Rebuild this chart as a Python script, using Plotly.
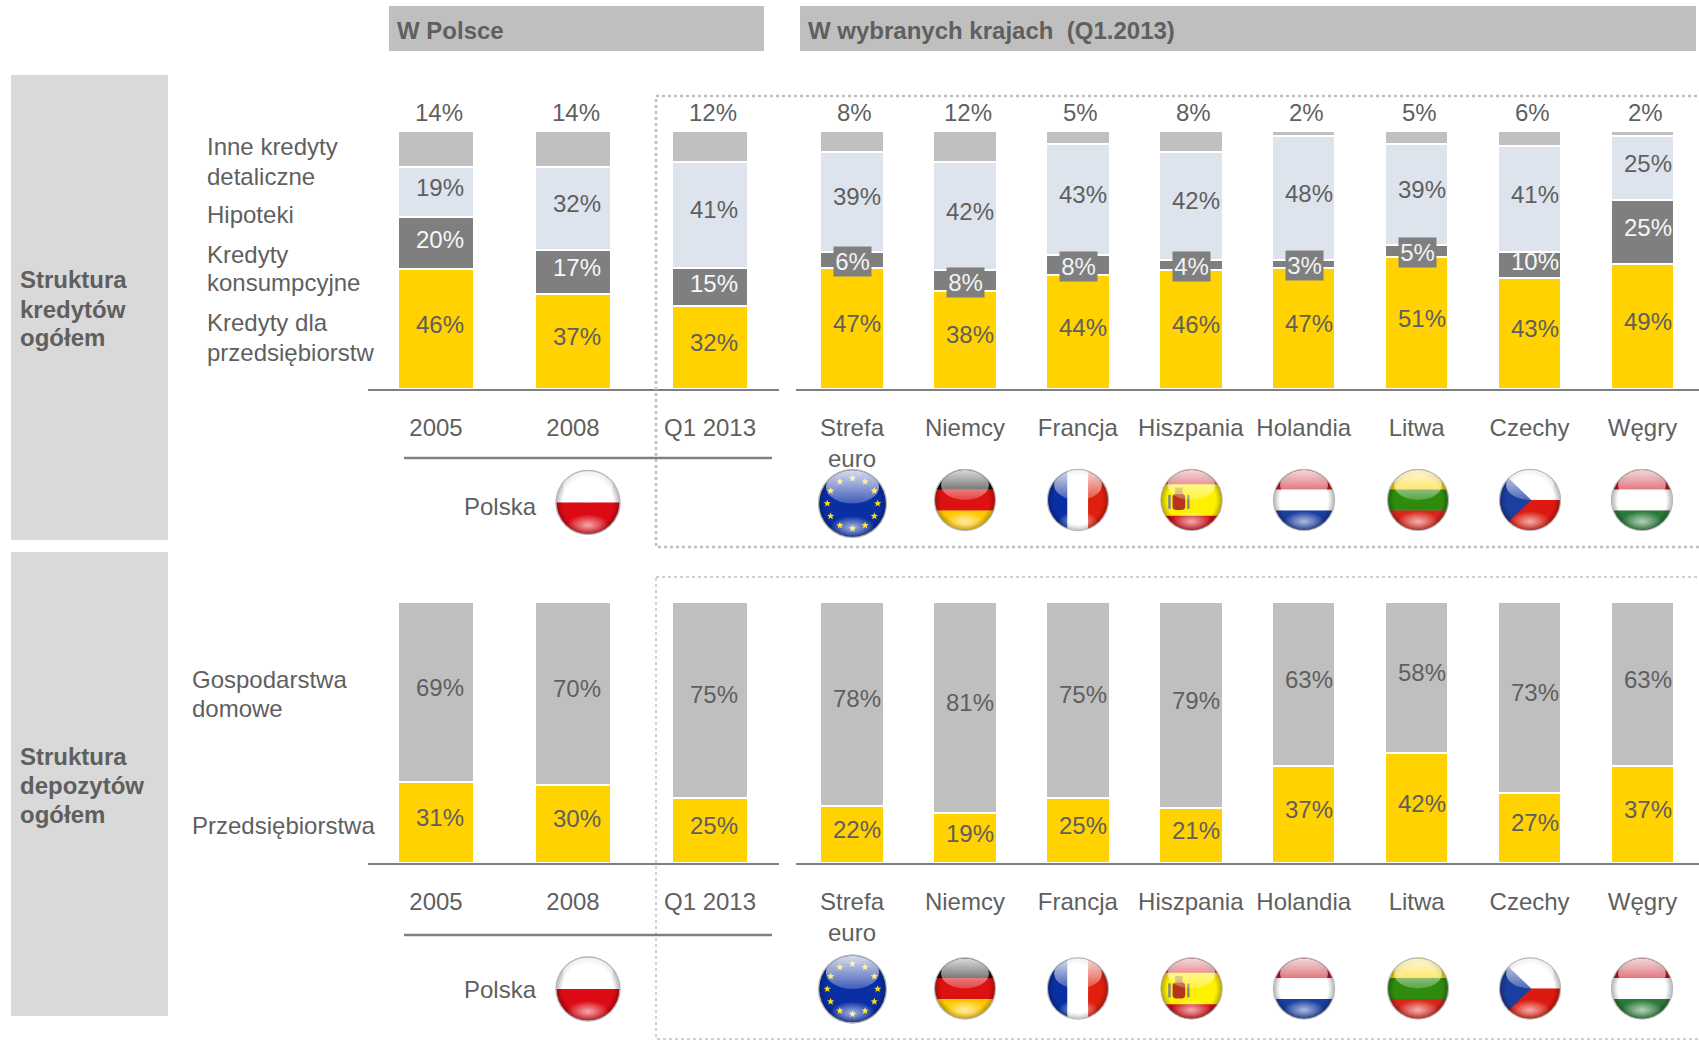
import base64
import math
import plotly.graph_objects as go

W, H = 1699, 1040
FONT = "Liberation Sans, Arial, sans-serif"
TXT = "#5F5F5F"
YELLOW, DARK, LIGHT, GREY = "#FFD200", "#7F7F7F", "#DEE4EE", "#BFBFBF"

# ---------- data ----------
poland_periods = ["2005", "2008", "Q1 2013"]
countries = ["Strefa<br>euro", "Niemcy", "Francja", "Hiszpania", "Holandia", "Litwa", "Czechy", "Węgry"]

pl_firms = [46, 37, 32]
pl_consumer = [20, 17, 15]
pl_mortgage = [19, 32, 41]
pl_other = [14, 14, 12]

eu_firms = [47, 38, 44, 46, 47, 51, 43, 49]
eu_consumer = [6, 8, 8, 4, 3, 5, 10, 25]
eu_mortgage = [39, 42, 43, 42, 48, 39, 41, 25]
eu_other = [8, 12, 5, 8, 2, 5, 6, 2]

pl_dep_firms = [31, 30, 25]
pl_dep_house = [69, 70, 75]
eu_dep_firms = [22, 19, 25, 21, 37, 42, 27, 37]
eu_dep_house = [78, 81, 75, 79, 63, 58, 73, 63]

credit_names = ["Kredyty dla przedsiębiorstw", "Kredyty konsumpcyjne", "Hipoteki", "Inne kredyty detaliczne"]
credit_colors = [YELLOW, DARK, LIGHT, GREY]
deposit_names = ["Przedsiębiorstwa", "Gospodarstwa domowe"]
deposit_colors = [YELLOW, GREY]


# ---------- helpers ----------
def px(x):
    return x / W


def py(y):
    return 1 - y / H


fig = go.Figure()
annotations, shapes, images = [], [], []


def text(x, y, s, size=24, bold=False, color=TXT, anchor="left"):
    annotations.append(dict(
        x=px(x), y=py(y), xref="paper", yref="paper", text=f"<b>{s}</b>" if bold else s,
        showarrow=False, xanchor=anchor, yanchor="middle", borderpad=0,
        font=dict(family=FONT, size=size, color=color)))


def rect(x0, y0, x1, y1, fill=None, line=None, dash=None, lw=0, layer="below"):
    shapes.append(dict(
        type="rect", xref="paper", yref="paper", x0=px(x0), x1=px(x1), y0=py(y0), y1=py(y1),
        fillcolor=fill or "rgba(0,0,0,0)", layer=layer,
        line=dict(color=line or "rgba(0,0,0,0)", width=lw, dash=dash or "solid")))


def hline(x0, x1, y, color=DARK, lw=2.5):
    shapes.append(dict(type="line", xref="paper", yref="paper", x0=px(x0), x1=px(x1),
                       y0=py(y), y1=py(y), layer="above", line=dict(color=color, width=lw)))


def panel(idx, cats, series, names, colors, x_dom, y_dom, bar_w, inside_dx, top_dx):
    """One group of stacked bars on its own category axis pair."""
    suffix = "" if idx == 1 else str(idx)
    for vals, name, col in zip(series, names, colors):
        fig.add_trace(go.Bar(
            x=cats, y=vals, name=name, width=bar_w, showlegend=False,
            marker=dict(color=col, line=dict(color="white", width=2)),
            xaxis=f"x{suffix}", yaxis=f"y{suffix}"))
    fig.layout[f"xaxis{suffix}"] = dict(
        domain=[px(x_dom[0]), min(px(x_dom[1]), 1)], anchor=f"y{suffix}", type="category",
        categoryorder="array", categoryarray=cats, range=[-0.5, len(cats) - 0.5],
        showgrid=False, zeroline=False, showline=True, linecolor=DARK, linewidth=2,
        ticks="outside", ticklen=16, tickcolor="rgba(0,0,0,0)", fixedrange=True,
        tickfont=dict(family=FONT, size=24, color=TXT))
    fig.layout[f"yaxis{suffix}"] = dict(
        domain=[py(y_dom[0]), py(y_dom[1])], anchor=f"x{suffix}", range=[0, 100],
        visible=False, fixedrange=True)

    # value labels, placed through the axes from the same data
    for i in range(len(cats)):
        total = sum(s[i] for s in series)
        cum = 0
        for k, (vals, col) in enumerate(zip(series, colors)):
            v = vals[i]
            mid = (cum + v / 2) / total * 100
            cum += v
            a = dict(xref=f"x{suffix}", yref=f"y{suffix}", x=i, y=mid, text=f"{v}%", showarrow=False,
                     xanchor="center", yanchor="middle", borderpad=0,
                     font=dict(family=FONT, size=24, color=TXT))
            if len(series) == 4 and k == 3:      # "other loans" sits above the bar
                a.update(y=100, yshift=19, xshift=top_dx)
            elif col == DARK and v < 10:          # thin segment: boxed label
                a.update(bgcolor=DARK, width=37, height=29, xshift=1, yshift=-1.5,
                         font=dict(family=FONT, size=24, color="#F2F2F2"))
            elif col == DARK:
                a.update(xshift=inside_dx, yshift=4, font=dict(family=FONT, size=24, color="#F7F7F7"))
            else:
                a.update(xshift=inside_dx, yshift=5)
            annotations.append(a)


# ---------- flags (inline SVG pictures) ----------
def flag_svg(content, uid):
    svg = f'''<svg xmlns="http://www.w3.org/2000/svg" width="200" height="200" viewBox="0 0 100 100">
<defs>
<clipPath id="c{uid}"><circle cx="50" cy="50" r="47.5"/></clipPath>
<linearGradient id="g{uid}" x1="0" y1="0" x2="0" y2="1"><stop offset="0" stop-color="#fff" stop-opacity=".85"/><stop offset="1" stop-color="#fff" stop-opacity=".22"/></linearGradient>
<radialGradient id="b{uid}"><stop offset="0" stop-color="#fff" stop-opacity=".65"/><stop offset="1" stop-color="#fff" stop-opacity="0"/></radialGradient>
<radialGradient id="v{uid}"><stop offset=".8" stop-color="#000" stop-opacity="0"/><stop offset="1" stop-color="#000" stop-opacity=".28"/></radialGradient>
</defs>
<circle cx="50" cy="50" r="49.5" fill="#b5b5b5"/>
<g clip-path="url(#c{uid})">{content}
<circle cx="50" cy="50" r="48" fill="url(#v{uid})"/>
<ellipse cx="50" cy="26" rx="38" ry="24" fill="url(#g{uid})"/>
<ellipse cx="50" cy="84" rx="32" ry="16" fill="url(#b{uid})"/>
</g></svg>'''
    return "data:image/svg+xml;base64," + base64.b64encode(svg.encode()).decode()


def hstripes(*cols):
    n = len(cols)
    return "".join(f'<rect x="0" y="{100 * i / n}" width="100" height="{100 / n + .5}" fill="{c}"/>'
                   for i, c in enumerate(cols))


def star(cx, cy, r):
    pts = []
    for i in range(10):
        rad = r if i % 2 == 0 else r * 0.42
        ang = -math.pi / 2 + i * math.pi / 5
        pts.append(f"{cx + rad * math.cos(ang):.1f},{cy + rad * math.sin(ang):.1f}")
    return f'<polygon points="{" ".join(pts)}" fill="#FFE000"/>'


def eu_flag():
    s = '<rect width="100" height="100" fill="#0A2FA5"/>'
    for i in range(12):
        a = math.radians(30 * i)
        s += star(50 + 36 * math.sin(a), 50 - 36 * math.cos(a), 5.5)
    return s


SPAIN = (
    '<rect width="100" height="100" fill="#D0121B"/>'
    '<rect y="25" width="100" height="50" fill="#FFF000"/>'
    '<rect x="20" y="40" width="20" height="26" rx="6" fill="#B5351C"/>'
    '<rect x="24" y="30" width="12" height="10" fill="#C8A020"/>'
    '<rect x="13" y="42" width="4" height="22" fill="#888"/>'
    '<rect x="43" y="42" width="4" height="22" fill="#888"/>')
FLAG_CONTENT = {
    "PL": hstripes("#FFFFFF", "#DC0A14"),
    "EU": eu_flag(),
    "DE": hstripes("#111111", "#DD1111", "#FFC800"),
    "FR": '<rect width="34" height="100" fill="#0A2FA5"/><rect x="33" width="34" height="100" fill="#fff"/>'
          '<rect x="66" width="34" height="100" fill="#E0200F"/>',
    "ES": SPAIN,
    "NL": hstripes("#C8101E", "#FFFFFF", "#1A3FA0"),
    "LT": hstripes("#FFD400", "#2E8B0E", "#D8261C"),
    "CZ": hstripes("#FFFFFF", "#DC1A10") + '<polygon points="0,0 52,50 0,100" fill="#1A3FA0"/>',
    "HU": hstripes("#C8101E", "#FFFFFF", "#2A7A3A"),
}


def flag(code, cx, cy, d):
    images.append(dict(source=flag_svg(FLAG_CONTENT[code], f"{code}{int(cy)}"), xref="paper", yref="paper",
                       x=px(cx), y=py(cy), sizex=d / W, sizey=d / H, xanchor="center", yanchor="middle",
                       sizing="stretch", layer="above"))


# ---------- layout furniture ----------
rect(389, 6, 764, 51, fill=GREY)
rect(800, 6, 1696, 51, fill=GREY)
rect(11, 75, 168, 540, fill="#D9D9D9")
rect(11, 552, 168, 1016, fill="#D9D9D9")
rect(656, 96, 1705, 547, line=GREY, lw=2.5, dash="dot", layer="above")
rect(656, 577, 1705, 1039, line="#CFCFCF", lw=2, dash="dot", layer="above")
hline(404, 772, 458)
hline(404, 772, 935)

text(396, 30, "W Polsce", bold=True)
text(807, 30, "W wybranych krajach  (Q1.2013)", bold=True)
for y, s in zip([280, 309, 338], ["Struktura", "kredytów", "ogółem"]):
    text(19, y, s, bold=True)
for y, s in zip([756, 785, 814], ["Struktura", "depozytów", "ogółem"]):
    text(19, y, s, bold=True)
for y, s in zip([147, 176, 215, 254, 283, 322, 352],
                ["Inne kredyty", "detaliczne", "Hipoteki", "Kredyty", "konsumpcyjne", "Kredyty dla", "przedsiębiorstw"]):
    text(206, y, s)
for y, s in zip([679, 708, 825], ["Gospodarstwa", "domowe", "Przedsiębiorstwa"]):
    text(191, y, s)
text(500.5, 506, "Polska", anchor="center")
text(500.5, 989, "Polska", anchor="center")

# ---------- bars ----------
PL_X = (367.5, 778.5)
EU_X = (795.5, 1699)
panel(1, poland_periods, [pl_firms, pl_consumer, pl_mortgage, pl_other], credit_names, credit_colors,
      PL_X, (389, 131), 0.558, 3.5, 3)
panel(2, countries, [eu_firms, eu_consumer, eu_mortgage, eu_other], credit_names, credit_colors,
      EU_X, (389, 131), 0.562, 5, 3)
panel(3, poland_periods, [pl_dep_firms, pl_dep_house], deposit_names, deposit_colors,
      PL_X, (863, 602), 0.558, 3.5, 3)
panel(4, countries, [eu_dep_firms, eu_dep_house], deposit_names, deposit_colors,
      EU_X, (863, 602), 0.562, 5, 3)

# ---------- flags ----------
flag_row = [("DE", 965), ("FR", 1078), ("ES", 1191.5), ("NL", 1304), ("LT", 1418), ("CZ", 1530), ("HU", 1642)]
flag("PL", 588, 502.5, 66)
flag("PL", 588, 989, 66)
flag("EU", 852.5, 503.5, 70)
flag("EU", 852.5, 989, 70)
for code, cx in flag_row:
    flag(code, cx, 500, 63)
    flag(code, cx, 988.5, 63)

fig.update_layout(
    width=W, height=H, margin=dict(l=0, r=0, t=0, b=0), autosize=False,
    barmode="stack", barnorm="percent", bargap=0.45,
    paper_bgcolor="white", plot_bgcolor="rgba(0,0,0,0)", showlegend=False,
    font=dict(family=FONT, size=24, color=TXT),
    annotations=annotations, shapes=shapes, images=images)

fig.write_html(
    "out.html", config={"displayModeBar": False},
    post_script="document.body.style.margin='0';document.documentElement.style.overflow='hidden';")
